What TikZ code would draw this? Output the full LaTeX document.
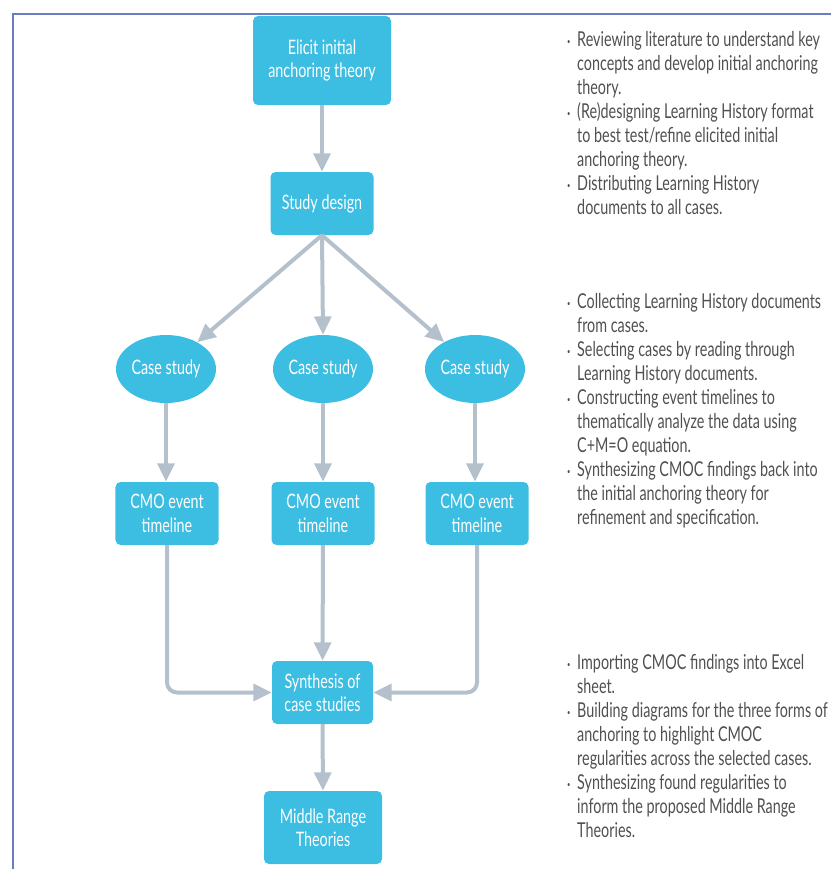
\documentclass[tikz,border=0pt]{standalone}
\usepackage{fontspec}
\usepackage{tikz}
\usetikzlibrary{arrows.meta, shapes.geometric, positioning}
\newfontfamily\boxfont[FakeStretch=0.72]{Lato}
\newfontfamily\notefont[FakeStretch=0.70]{Lato}
\definecolor{BoxCyan}{RGB}{60,189,226}
\definecolor{ArrGray}{RGB}{180,193,204}
\definecolor{NoteGray}{RGB}{80,80,80}
\definecolor{FrameBlue}{RGB}{105,125,195}
\newlength\bulw
\setlength\bulw{0.3cm}
\newcommand\bul{\makebox[\bulw][l]{\raisebox{0.2ex}{\scriptsize\textbullet}}}
\newcommand\ind{\hspace*{\bulw}}

\begin{document}
\begin{tikzpicture}[x=0.03cm,y=-0.03cm,
    stepbox/.style={fill=BoxCyan,rounded corners=0.15cm,text=white,
                    font=\boxfont\fontsize{17}{20}\selectfont,align=center,
                    inner sep=2pt},
    casenode/.style={ellipse,fill=BoxCyan,text=white,inner sep=0pt,
                     font=\boxfont\fontsize{17}{20}\selectfont,
                     minimum width=3.0cm,minimum height=2.04cm},
    notes/.style={anchor=north west,inner sep=0pt,align=left,text=NoteGray,
                  font=\notefont\fontsize{17.5}{20.5}\selectfont},
    arr/.style={-{Triangle[length=0.55cm,width=0.5cm]},draw=ArrGray,line width=0.12cm}
  ]
    \useasboundingbox (0,0) rectangle (831,869);
    % frame of the page
    \draw[FrameBlue,line width=0.06cm] (13,869) -- (13,13.5) -- (831,13.5);

    \node[stepbox,minimum width=4.14cm,minimum height=2.67cm] (elicit) at (322,60.5)
      {Elicit initial\\anchoring theory};
    \node[stepbox,minimum width=3.09cm,minimum height=1.89cm] (design) at (322,203.5)
      {Study design};
    \node[casenode] (case1) at (166,369) {Case study};
    \node[casenode] (case2) at (323,369) {Case study};
    \node[casenode] (case3) at (475,369) {Case study};
    \node[stepbox,minimum width=3.09cm,minimum height=1.89cm] (cmo1) at (167,513.5)
      {CMO event\\timeline};
    \node[stepbox,minimum width=3.09cm,minimum height=1.89cm] (cmo2) at (323,513.5)
      {CMO event\\timeline};
    \node[stepbox,minimum width=3.09cm,minimum height=1.89cm] (cmo3) at (477,513.5)
      {CMO event\\timeline};
    \node[stepbox,minimum width=3.03cm,minimum height=1.89cm] (synth) at (322.5,692.5)
      {Synthesis of\\case studies};
    \node[stepbox,minimum width=3.54cm,minimum height=2.19cm] (mrt) at (323,827.5)
      {Middle Range\\Theories};

    \draw[arr] (elicit)--(design);
    \draw[arr] (design.south)--(case1);
    \draw[arr] (design.south)--(case2.north);
    \draw[arr] (design.south)--(case3);
    \draw[arr] (case1.south)--(case1.south|-cmo1.north);
    \draw[arr] (case2.south)--(case2.south|-cmo2.north);
    \draw[arr] (case3.south)--(case3.south|-cmo3.north);
    \draw[arr] (cmo2)--(synth);
    \draw[arr,rounded corners=0.3cm] (cmo1.south) |- (synth.west);
    \draw[arr,rounded corners=0.3cm] (cmo3.south) |- (synth.east);
    \draw[arr] (synth)--(mrt);

    % notes on the right
    \node[notes] (notesA) at (567,31) {%
      \bul Reviewing literature to understand key\\
      \ind concepts and develop initial anchoring\\
      \ind theory.\\
      \bul (Re)designing Learning History format\\
      \ind to best test/refine elicited initial\\
      \ind anchoring theory.\\
      \bul Distributing Learning History\\
      \ind documents to all cases.};
    \node[notes] (notesB) at (567,293) {%
      \bul Collecting Learning History documents\\
      \ind from cases.\\
      \bul Selecting cases by reading through\\
      \ind Learning History documents.\\
      \bul Constructing event timelines to\\
      \ind thematically analyze the data using\\
      \ind C+M=O equation.\\
      \bul Synthesizing CMOC findings back into\\
      \ind the initial anchoring theory for\\
      \ind refinement and specification.};
    \node[notes] (notesC) at (567,654) {%
      \bul Importing CMOC findings into Excel\\
      \ind sheet.\\
      \bul Building diagrams for the three forms of\\
      \ind anchoring to highlight CMOC\\
      \ind regularities across the selected cases.\\
      \bul Synthesizing found regularities to\\
      \ind inform the proposed Middle Range\\
      \ind Theories.};
  \end{tikzpicture}
\end{document}
